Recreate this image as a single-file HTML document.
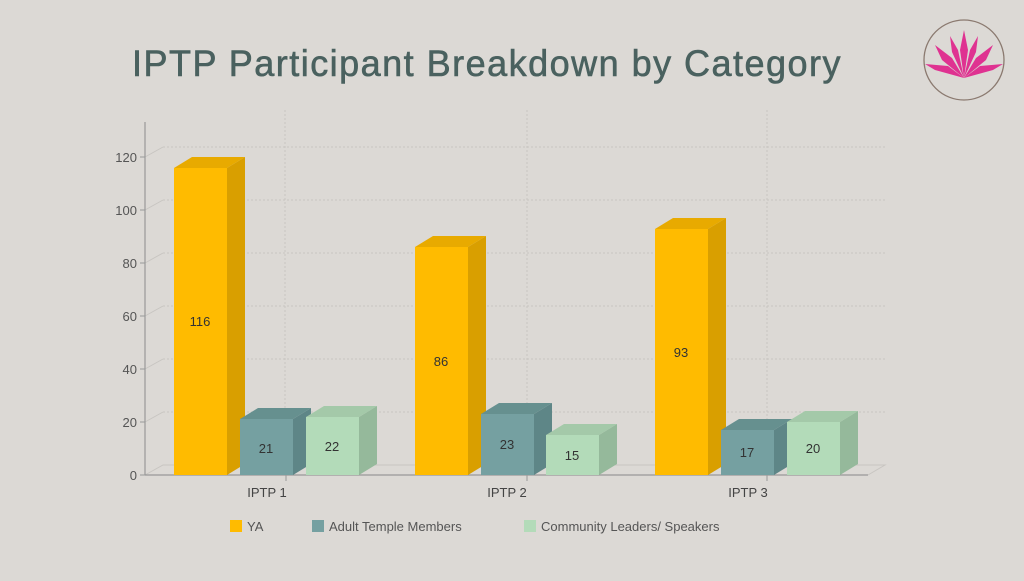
<!DOCTYPE html>
<html><head><style>
body{margin:0;width:1024px;height:576px;background:#dcd9d5;overflow:hidden;font-family:"Liberation Sans",sans-serif}
</style></head><body>
<svg width="1024" height="576" xmlns="http://www.w3.org/2000/svg">
<rect width="1024" height="576" fill="#dcd9d5"/>
<text x="487" y="76" text-anchor="middle" font-family="Liberation Sans, sans-serif" font-size="37" fill="#4a615f" stroke="#4a615f" stroke-width="0.6" letter-spacing="1.5" textLength="710" lengthAdjust="spacingAndGlyphs">IPTP Participant Breakdown by Category</text>
<circle cx="964" cy="60" r="40" fill="none" stroke="#8b7a70" stroke-width="1.3"/>
<g fill="#e0218a" opacity="0.9">
<path d="M964 78 L960 50 L964 30 L968 50 Z"/>
<path d="M964 78 L952 52 L950 36 L958 50 Z"/>
<path d="M964 78 L976 52 L978 36 L970 50 Z"/>
<path d="M964 78 L942 60 L935 45 L952 58 Z"/>
<path d="M964 78 L986 60 L993 45 L976 58 Z"/>
<path d="M964 78 L935 70 L925 64 L948 66 Z"/>
<path d="M964 78 L993 70 L1003 64 L980 66 Z"/>
</g>
<g stroke="#c8c5c1" stroke-width="1" stroke-dasharray="2,2" fill="none">
<path d="M163 147H885M163 200H885M163 253H885M163 306H885M163 359H885M163 412H885"/>
<path d="M285 110V465M527 110V465M767 110V465"/>
</g>
<g stroke="#c8c5c1" fill="none"><path d="M145 157L163 147M145 210L163 200M145 263L163 253M145 316L163 306M145 369L163 359M145 422L163 412M145 475L163 465H885L868 475"/></g>
<line x1="145" y1="122" x2="145" y2="475" stroke="#999" stroke-width="1.2"/>
<line x1="145" y1="475" x2="868" y2="475" stroke="#999" stroke-width="1.2"/>
<g stroke="#999"><path d="M140 157H145M140 210H145M140 263H145M140 316H145M140 369H145M140 422H145M140 475H145M286 475V481M527 475V481M767 475V481"/></g>
<g font-size="13" fill="#555" text-anchor="end">
<text x="137" y="162">120</text><text x="137" y="215">100</text><text x="137" y="268">80</text><text x="137" y="321">60</text><text x="137" y="374">40</text><text x="137" y="427">20</text><text x="137" y="480">0</text>
</g>
<g font-size="13" fill="#444" text-anchor="middle">
<text x="267" y="497">IPTP 1</text><text x="507" y="497">IPTP 2</text><text x="748" y="497">IPTP 3</text>
</g>
<!-- YA bars -->
<g>
<rect x="174" y="168" width="53" height="307" fill="#ffbb00"/>
<path d="M227 168L245 157V464L227 475Z" fill="#d99f00"/>
<path d="M174 168L192 157H245L227 168Z" fill="#e8aa00"/>
<rect x="415" y="247" width="53" height="228" fill="#ffbb00"/>
<path d="M468 247L486 236V464L468 475Z" fill="#d99f00"/>
<path d="M415 247L433 236H486L468 247Z" fill="#e8aa00"/>
<rect x="655" y="229" width="53" height="246" fill="#ffbb00"/>
<path d="M708 229L726 218V464L708 475Z" fill="#d99f00"/>
<path d="M655 229L673 218H726L708 229Z" fill="#e8aa00"/>
</g>
<!-- Teal bars -->
<g>
<rect x="240" y="419" width="53" height="56" fill="#75a0a1"/>
<path d="M293 419L311 408V464L293 475Z" fill="#5e8687"/>
<path d="M240 419L258 408H311L293 419Z" fill="#66908f"/>
<rect x="481" y="414" width="53" height="61" fill="#75a0a1"/>
<path d="M534 414L552 403V464L534 475Z" fill="#5e8687"/>
<path d="M481 414L499 403H552L534 414Z" fill="#66908f"/>
<rect x="721" y="430" width="53" height="45" fill="#75a0a1"/>
<path d="M774 430L792 419V464L774 475Z" fill="#5e8687"/>
<path d="M721 430L739 419H792L774 430Z" fill="#66908f"/>
</g>
<!-- Green bars -->
<g>
<rect x="306" y="417" width="53" height="58" fill="#b3dbb9"/>
<path d="M359 417L377 406V464L359 475Z" fill="#95b99b"/>
<path d="M306 417L324 406H377L359 417Z" fill="#a4c9a9"/>
<rect x="546" y="435" width="53" height="40" fill="#b3dbb9"/>
<path d="M599 435L617 424V464L599 475Z" fill="#95b99b"/>
<path d="M546 435L564 424H617L599 435Z" fill="#a4c9a9"/>
<rect x="787" y="422" width="53" height="53" fill="#b3dbb9"/>
<path d="M840 422L858 411V464L840 475Z" fill="#95b99b"/>
<path d="M787 422L805 411H858L840 422Z" fill="#a4c9a9"/>
</g>
<g font-size="13" fill="#333" text-anchor="middle">
<text x="200" y="326">116</text><text x="441" y="366">86</text><text x="681" y="357">93</text>
<text x="266" y="453">21</text><text x="507" y="449">23</text><text x="747" y="457">17</text>
<text x="332" y="451">22</text><text x="572" y="460">15</text><text x="813" y="453">20</text>
</g>
<g font-size="13">
<rect x="230" y="520" width="12" height="12" fill="#ffbb00"/><text x="247" y="531" fill="#555">YA</text>
<rect x="312" y="520" width="12" height="12" fill="#75a0a1"/><text x="329" y="531" fill="#555">Adult Temple Members</text>
<rect x="524" y="520" width="12" height="12" fill="#b3dbb9"/><text x="541" y="531" fill="#555">Community Leaders/ Speakers</text>
</g>
</svg>
</body></html>
